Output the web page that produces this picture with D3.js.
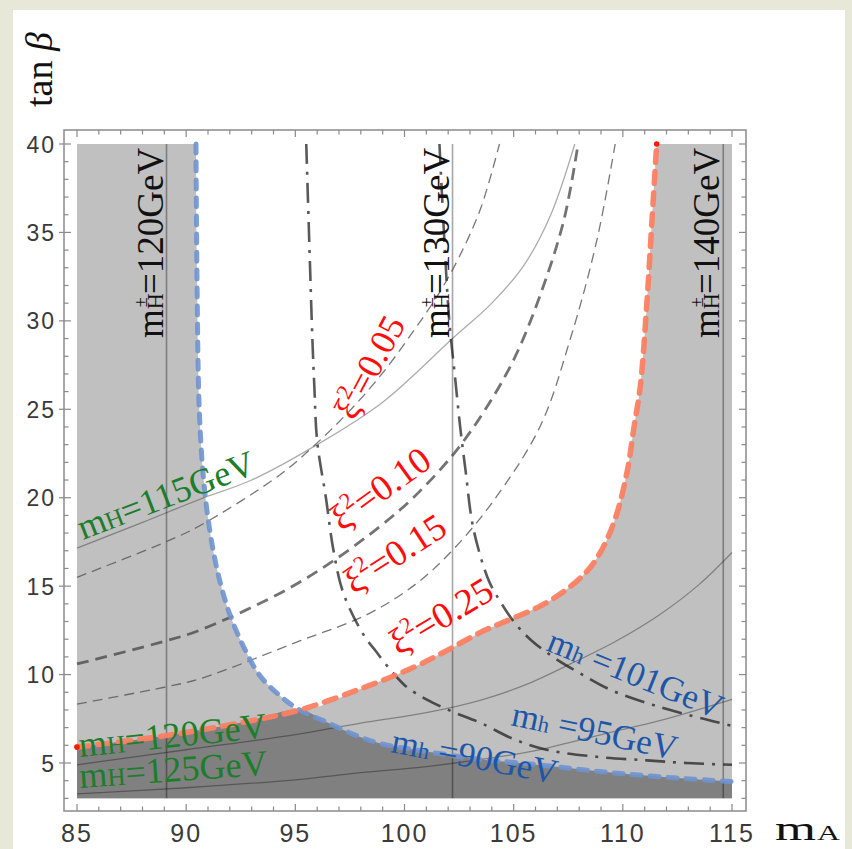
<!DOCTYPE html>
<html><head><meta charset="utf-8">
<script src="https://cdn.jsdelivr.net/npm/d3@7"></script>
<style>
html,body{margin:0;padding:0;background:#e7e8d8;}
svg{display:block;}
</style></head>
<body>
<svg id="chart" width="852" height="849"></svg>
<script>
// ---------- DATA ----------
const xTicks = [85, 90, 95, 100, 105, 110, 115];
const yTicks = [5, 10, 15, 20, 25, 30, 35, 40];
const xDomain = [85, 115];
const yDomain = [3, 40];

// charged Higgs mass contours (vertical lines): mass label -> mA position
const chargedHiggsMass = [120, 130, 140];
const chargedHiggsMA = [89.1, 102.2, 114.6];

// m_H contours (solid thin)
const mH115 = [[85,17.15],[88,18.6],[90.6,19.9],[93,21.0],[96,23.0],[99,25.4],[102.2,29.0],[104,31.0],[105.5,33.2],[106.7,36.0],[107.8,40]];
const mH120 = [[85,4.9],[90,5.75],[95,6.6],[98,7.26],[101,7.85],[103.5,8.56],[105.5,9.4],[107.6,10.6],[109.7,11.9],[111.7,13.4],[113.5,15.1],[115,16.9]];
const mH125 = [[85,3.25],[90,3.6],[95,4.05],[98,4.45],[101,4.8],[103.5,5.2],[106,5.7],[108,6.3],[110,6.9],[112,7.5],[115,8.6]];

// xi^2 contours
const xi005 = [[85,15.5],[89.06,17.5],[90.6,18.4],[94.3,21.3],[96,23.1],[97.4,24.8],[98.9,26.9],[100.4,29.4],[101.6,31.6],[102.5,33.6],[103.5,36.4],[104.35,40]];
const xi010 = [[85,10.6],[89.06,11.9],[90.6,12.5],[94.3,14.6],[96.7,16.4],[98.9,18.4],[100.4,20.0],[102.2,22.4],[103.6,24.8],[105,27.8],[106.2,31.4],[107.3,35.7],[107.95,40]];
const xi015 = [[85,8.33],[89.06,9.3],[90.6,9.75],[95.2,11.9],[98.3,13.4],[100.5,15.1],[102.1,16.9],[104,19.7],[106.2,24.0],[107.6,29.0],[108.8,34.5],[109.65,40]];
const xi025 = [[85,5.9],[88.8,6.5],[92.6,7.3],[95.2,8.0],[98,9.2],[100.4,10.4],[102,11.4],[103.5,12.4],[104.8,13.1],[106.1,13.8],[107.3,14.7],[108.4,15.9],[109.1,17.2],[109.7,19.0],[110.2,21.5],[110.5,23.9],[110.8,26.3],[111.1,31],[111.35,36],[111.55,40]];

// m_h contours
const mh90 = [[90.45,40],[90.5,32],[90.6,25],[90.8,21],[91.1,18],[91.5,15.5],[92.0,13.4],[92.7,11.4],[93.4,9.9],[94.3,8.8],[95.2,8.0],[96.45,7.3],[97.6,6.65],[98.9,6.1],[101,5.65],[103.5,5.2],[105.3,5.0],[107.6,4.7],[109.9,4.4],[112.5,4.15],[115,3.95]];
const mh95 = [[95.5,40],[95.65,34],[95.78,29],[95.87,26.3],[96.0,23.2],[96.4,20.0],[96.75,17.0],[97.2,14.6],[98.1,12.3],[98.7,11.3],[99.4,10.2],[100.1,9.3],[101,8.6],[102.2,7.9],[103.5,7.26],[105,6.35],[106.5,5.75],[108.8,5.35],[111.1,5.15],[112.9,5.0],[115,4.9]];
const mh101 = [[101.6,40],[101.85,34],[102.05,30],[102.3,27],[102.55,24],[102.8,21.5],[103.1,18.6],[103.5,16.6],[103.9,15.2],[104.4,14.1],[105.0,13.0],[105.75,12.0],[106.8,11.0],[108.0,10.1],[109.5,9.1],[111.6,8.2],[113.7,7.5],[115,7.1]];

// crossing of the m_h=90 and xi^2=0.25 boundaries
const crossing = [95.2, 8.0];

// ---------- LAYOUT ----------
const svg = d3.select("#chart");
const W = 852, H = 849;
const x = d3.scaleLinear().domain(xDomain).range([77, 732]);
const y = d3.scaleLinear().domain([5, 40]).range([763, 144]);
const frame = {x0: 64, x1: 746, y0: 130, y1: 811};

// white panel
svg.append("rect").attr("x", 13).attr("y", 10).attr("width", 832).attr("height", H - 10).attr("fill", "#ffffff");

const plot = svg.append("g");
const line = d3.line().x(d => x(d[0])).y(d => y(d[1])).curve(d3.curveCatmullRom.alpha(0.5));

// light grey background region
plot.append("rect")
  .attr("x", x(xDomain[0])).attr("y", y(yDomain[1]))
  .attr("width", x(xDomain[1]) - x(xDomain[0]))
  .attr("height", y(yDomain[0]) - y(yDomain[1]))
  .attr("fill", "#c0c0c0");

// allowed (white) region: right of m_h=90 and above xi^2=0.25
const blueUpper = mh90.filter(d => d[0] <= crossing[0]);
const redUpper = xi025.filter(d => d[0] >= crossing[0]);
plot.append("path")
  .attr("d", line(blueUpper.concat(redUpper.slice(1))) + "Z")
  .attr("fill", "#ffffff");

// doubly excluded (dark) region
const redLower = xi025.filter(d => d[0] <= crossing[0]);
const blueLower = mh90.filter(d => d[0] >= crossing[0]);
const darkPath = "M" + x(xDomain[0]) + "," + y(yDomain[0]) + "L" +
  line(redLower.concat(blueLower.slice(1))).slice(1) +
  "L" + x(xDomain[1]) + "," + y(yDomain[0]) + "Z";
plot.append("path").attr("d", darkPath).attr("fill", "#808080");

// clip for curves
svg.append("clipPath").attr("id", "clip").append("rect")
  .attr("x", x(xDomain[0]) - 6).attr("y", y(yDomain[1]) - 6)
  .attr("width", x(xDomain[1]) - x(xDomain[0]) + 12)
  .attr("height", y(yDomain[0]) - y(yDomain[1]) + 12);
const curves = svg.append("g").attr("clip-path", "url(#clip)");

// vertical charged-Higgs lines
curves.selectAll(".vline").data(chargedHiggsMA).join("line")
  .attr("x1", d => x(d)).attr("x2", d => x(d))
  .attr("y1", y(yDomain[0])).attr("y2", y(yDomain[1]))
  .attr("stroke", "#000").attr("stroke-opacity", 0.35).attr("stroke-width", 1.6);

// solid m_H curves
[mH115, mH120, mH125].forEach(c => {
  curves.append("path").attr("d", line(c)).attr("fill", "none")
    .attr("stroke", "#000").attr("stroke-opacity", 0.33).attr("stroke-width", 1.3);
});

// xi^2 dashed grey
[xi005, xi015].forEach(c => {
  curves.append("path").attr("d", line(c)).attr("fill", "none")
    .attr("stroke", "#555").attr("stroke-opacity", 0.8).attr("stroke-width", 1.3).attr("stroke-dasharray", "10,6");
});
curves.append("path").attr("d", line(xi010)).attr("fill", "none")
  .attr("stroke", "#444").attr("stroke-opacity", 0.75).attr("stroke-width", 2.8).attr("stroke-dasharray", "12,7");

// m_h dash-dot
[mh95, mh101].forEach(c => {
  curves.append("path").attr("d", line(c)).attr("fill", "none")
    .attr("stroke", "#222").attr("stroke-opacity", 0.75).attr("stroke-width", 2.6)
    .attr("stroke-dasharray", "20,8,3,8");
});

// boundaries
curves.append("path").attr("d", line(mh90)).attr("fill", "none")
  .attr("stroke", "#6f94d0").attr("stroke-opacity", 0.9).attr("stroke-width", 5)
  .attr("stroke-linecap", "round").attr("stroke-dasharray", "9,9");
curves.append("path").attr("d", line(xi025)).attr("fill", "none")
  .attr("stroke", "#fb8062").attr("stroke-opacity", 0.95).attr("stroke-width", 5.5)
  .attr("stroke-linecap", "round").attr("stroke-dasharray", "12,9");
curves.selectAll(".redend").data([xi025[0], xi025[xi025.length - 1]]).join("circle")
  .attr("cx", d => x(d[0])).attr("cy", d => y(d[1])).attr("r", 2.8).attr("fill", "#ff1a00");

// ---------- FRAME & TICKS ----------
const axG = svg.append("g").attr("stroke", "#8a8a8a");
axG.append("rect").attr("x", frame.x0).attr("y", frame.y0)
  .attr("width", frame.x1 - frame.x0).attr("height", frame.y1 - frame.y0)
  .attr("fill", "none").attr("stroke-width", 1.5);
const xMinor = d3.range(85, 116, 1);
const yMinor = d3.range(3, 41, 1);
xMinor.forEach(v => {
  const L = xTicks.includes(v) ? 7 : 4.5;
  axG.append("line").attr("x1", x(v)).attr("x2", x(v)).attr("y1", frame.y1).attr("y2", frame.y1 - L).attr("stroke-width", 1.2);
  axG.append("line").attr("x1", x(v)).attr("x2", x(v)).attr("y1", frame.y0).attr("y2", frame.y0 + L).attr("stroke-width", 1.2);
});
yMinor.forEach(v => {
  const L = yTicks.includes(v) ? 7 : 4.5;
  axG.append("line").attr("y1", y(v)).attr("y2", y(v)).attr("x1", frame.x0).attr("x2", frame.x0 + L).attr("stroke-width", 1.2);
  axG.append("line").attr("y1", y(v)).attr("y2", y(v)).attr("x1", frame.x1).attr("x2", frame.x1 - L).attr("stroke-width", 1.2);
});
yTicks.forEach(v => {
  axG.append("line").attr("y1", y(v)).attr("y2", y(v)).attr("x1", frame.x0 - 5).attr("x2", frame.x0).attr("stroke-width", 1.2);
});

const tickFont = "'Liberation Sans', Arial, sans-serif";
svg.append("g").selectAll("text").data(xTicks).join("text")
  .attr("x", d => x(d)).attr("y", 842).attr("text-anchor", "middle")
  .attr("font-family", tickFont).attr("font-size", 25).attr("letter-spacing", 2)
  .attr("fill", "#3a3a3a").text(d => d);
svg.append("g").selectAll("text").data(yTicks).join("text")
  .attr("x", 56).attr("y", d => y(d) + 8.5).attr("text-anchor", "end")
  .attr("font-family", tickFont).attr("font-size", 23).attr("letter-spacing", 2)
  .attr("fill", "#3a3a3a").text(d => d);

// axis titles
const serif = "'Liberation Serif', 'Times New Roman', serif";
const tb = svg.append("text").attr("transform", "translate(52,107) rotate(-90)")
  .attr("font-family", serif).attr("font-size", 38).attr("fill", "#111");
tb.append("tspan").text("tan ");
tb.append("tspan").attr("font-style", "italic").text("β");
svg.append("text").attr("x", 775).attr("y", 840)
  .attr("font-family", serif).attr("font-size", 34).attr("fill", "#111")
  .attr("textLength", 41).attr("lengthAdjust", "spacingAndGlyphs").text("m");
svg.append("text").attr("x", 817).attr("y", 840)
  .attr("font-family", serif).attr("font-size", 22).attr("fill", "#111")
  .attr("textLength", 23).attr("lengthAdjust", "spacingAndGlyphs").text("A");

// ---------- LABELS ----------
function label(mx, ty, rot, color, size, parts) {
  const t = svg.append("text")
    .attr("transform", `translate(${x(mx)},${y(ty)}) rotate(${rot})`)
    .attr("font-family", serif).attr("font-size", size).attr("fill", color);
  parts.forEach(p => {
    const s = t.append("tspan").text(p.t);
    if (p.fs) s.attr("font-size", p.fs);
    if (p.dy) s.attr("dy", p.dy);
    if (p.dx) s.attr("dx", p.dx);
  });
  return t;
}
const green = "#1c7d2a", red = "#ff0d0d", blue = "#1d56a8", black = "#111";
const mHparts = (v) => [{t: "m"}, {t: "H", fs: "70%"}, {t: "=" + v + "GeV"}];
label(85.27, 17.61, -21, green, 36, mHparts(115));
label(85.14, 5.34, -6, green, 36, mHparts(120));
label(85.14, 3.59, -4, green, 36, mHparts(125));

const mHpm = (v) => [{t: "m"}, {t: "H", fs: "60%"}, {t: "±", fs: "50%", dx: -14, dy: -16}, {t: "=" + v + "GeV", dx: 3, dy: 16}];
chargedHiggsMA.forEach((m, i) => {
  label(m - 4 / 21.83, 29.03, -90, black, 37, mHpm(chargedHiggsMass[i]));
});

const xiParts = (v) => [{t: "ξ"}, {t: "2", fs: "62%", dy: -15}, {t: "=" + v, dy: 15}];
label(97.7, 24.3, -62, red, 36, xiParts("0.05"));
label(97.13, 18.06, -36, red, 37, xiParts("0.10"));
label(97.69, 14.50, -33, red, 37, xiParts("0.15"));
label(99.74, 11.05, -31, red, 37, xiParts("0.25"));

const mhParts = (v) => [{t: "m"}, {t: "h", fs: "65%"}, {t: " =" + v + "GeV"}];
label(106.44, 11.39, 22, blue, 35, mhParts(101));
label(104.83, 7.15, 12, blue, 35, mhParts(95));
label(99.34, 5.62, 11, blue, 35, mhParts(90));
</script>
</body></html>
